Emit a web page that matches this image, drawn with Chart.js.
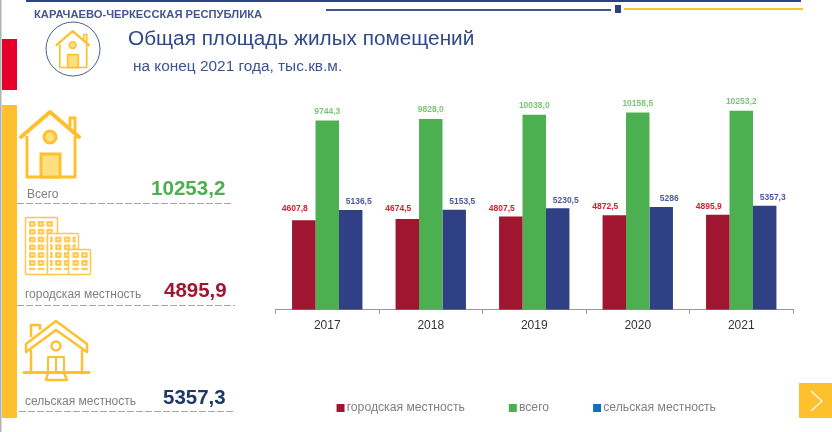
<!DOCTYPE html>
<html>
<head>
<meta charset="utf-8">
<script src="https://cdn.jsdelivr.net/npm/chart.js@4"></script>
<style>
  html, body { margin: 0; padding: 0; background: #fff; }
  body { width: 832px; height: 432px; overflow: hidden; position: relative; font-family: "Liberation Sans", Arial, sans-serif; }
  canvas, svg.decor { position: absolute; left: 0; top: 0; }
  .t { position: absolute; white-space: nowrap; line-height: 1; }
  .cap { font-size: 12px; color: #808080; }
  .num { font-weight: bold; }
</style>
</head>
<body>
<svg class="decor" width="832" height="432" viewBox="0 0 832 432">
  <defs>
    <g id="house">
      <path d="M21 137 L50 112 L79 137" fill="none" stroke="#FFC02E" stroke-width="4" stroke-linejoin="round" stroke-linecap="round"/>
      <path d="M27 136 V177 H75 V136 M70 127 V118 H75 V132" fill="none" stroke="#FFC02E" stroke-width="3"/>
      <circle cx="50" cy="137" r="6" fill="#FFDF80" stroke="#FFC02E" stroke-width="3"/>
      <rect x="41" y="154" width="19" height="23" fill="#FFDF80" stroke="#FFC02E" stroke-width="3"/>
    </g>
    <pattern id="win" x="29" y="221" width="8.7" height="7.8" patternUnits="userSpaceOnUse">
      <rect x="1" y="1" width="4.5" height="3.8" fill="#FFE9B0" stroke="#FFC02E" stroke-width="1.6"/>
    </pattern>
  </defs>

  <!-- рамка и полосы -->
  <rect x="0" y="0" width="1.5" height="432" fill="#B0B0B0"/>
  <rect x="26" y="0" width="775" height="2" fill="#2F4085"/>
  <rect x="326" y="9" width="285" height="2" fill="#46558F"/>
  <rect x="615" y="5" width="6" height="8" fill="#2F4085"/>
  <rect x="624" y="8" width="179" height="2" fill="#FFC02E"/>
  <rect x="2" y="39" width="15" height="51" fill="#E4002B"/>
  <rect x="2" y="105" width="15" height="313" fill="#FFC02E"/>

  <!-- иконка в круге -->
  <circle cx="73" cy="49" r="27" fill="none" stroke="#46608F" stroke-width="1"/>
  <use href="#house" transform="translate(44.7 -31.6) scale(0.56)"/>

  <!-- большие иконки -->
  <use href="#house"/>
  <g>
    <rect x="25.5" y="217.5" width="32" height="57" rx="1" fill="#fff" stroke="#FFC84A" stroke-width="1.5"/>
    <rect x="28" y="220" width="27" height="50" fill="url(#win)"/>
    <rect x="47.5" y="233.5" width="31" height="41" rx="1" fill="#fff" stroke="#FFC84A" stroke-width="1.5"/>
    <rect x="50" y="236" width="26" height="34" fill="url(#win)"/>
    <rect x="68.5" y="249.5" width="22" height="25" rx="1" fill="#fff" stroke="#FFC84A" stroke-width="1.5"/>
    <rect x="71" y="252" width="17" height="18" fill="url(#win)"/>
  </g>
  <g fill="none" stroke="#FFC02E" stroke-linejoin="round">
    <path d="M26 352 V344 L56 321 L87 344 V352 L56 330 Z" stroke-width="2.5"/>
    <path d="M31 337 V325 H40 V330" stroke-width="2.5"/>
    <path d="M31 350 V372 M82 350 V372" stroke-width="2.5"/>
    <path d="M24 372.5 H89" stroke-width="3" stroke-linecap="round"/>
    <circle cx="56" cy="346" r="4.5" stroke-width="2.5"/>
    <path d="M48 372 V357 H64 V372 M56 357 V372" stroke-width="2"/>
    <path d="M48 373 L46 380 H67 L64 373" stroke-width="2.5"/>
  </g>

  <!-- пунктиры -->
  <g stroke="#A6A6A6" stroke-width="1" stroke-dasharray="7 2">
    <line x1="17" y1="203.5" x2="233" y2="203.5"/>
    <line x1="17" y1="305.5" x2="235" y2="305.5"/>
    <line x1="19" y1="411.5" x2="235" y2="411.5"/>
  </g>

  <!-- стрелка -->
  <rect x="799" y="383" width="33" height="35" fill="#FFC02E"/>
  <path d="M811 391 L822 401 L811 411" fill="none" stroke="#fff" stroke-width="1.2"/>
</svg>

<canvas id="areaChart" width="832" height="432"></canvas>

<div class="t" style="left:34px;top:9px;font-size:11.2px;font-weight:bold;color:#46558F">КАРАЧАЕВО-ЧЕРКЕССКАЯ РЕСПУБЛИКА</div>
<div class="t" style="left:128px;top:28px;font-size:20.75px;color:#2F4A8A">Общая площадь жилых помещений</div>
<div class="t" style="left:133px;top:58px;font-size:15.4px;color:#3B5592">на конец 2021 года, тыс.кв.м.</div>

<div class="t cap" style="left:27px;top:188px">Всего</div>
<div class="t num" style="left:151px;top:178px;font-size:20.6px;color:#4CAF50">10253,2</div>
<div class="t cap" style="left:25px;top:288px">городская местность</div>
<div class="t num" style="left:164px;top:280px;font-size:20.5px;color:#A0152F">4895,9</div>
<div class="t cap" style="left:25px;top:395px">сельская местность</div>
<div class="t num" style="left:163px;top:387px;font-size:20.5px;color:#1F3864">5357,3</div>

<script>
// Данные диаграммы
const years = ['2017', '2018', '2019', '2020', '2021'];
const urbanValues = [4607.8, 4674.5, 4807.5, 4872.5, 4895.9];
const totalValues = [9744.3, 9828.0, 10038.0, 10158.5, 10253.2];
const ruralValues = [5136.5, 5153.5, 5230.5, 5286, 5357.3];
const urbanLabels = ['4607,8', '4674,5', '4807,5', '4872,5', '4895,9'];
const totalLabels = ['9744,3', '9828,0', '10038,0', '10158,5', '10253,2'];
const ruralLabels = ['5136,5', '5153,5', '5230,5', '5286', '5357,3'];

// Подписи над столбиками
const barLabels = {
    id: 'barLabels',
    afterDatasetsDraw(chart) {
        const ctx = chart.ctx;
        ctx.save();
        ctx.font = 'bold 8.5px "Liberation Sans", Arial, sans-serif';
        ctx.textAlign = 'center';
        ctx.textBaseline = 'middle';
        chart.data.datasets.forEach((ds, i) => {
            ctx.fillStyle = ds.labelColor;
            chart.getDatasetMeta(i).data.forEach((bar, j) => {
                const dy = ds.labelRaise[j];
                ctx.fillText(ds.labelTexts[j], bar.x + ds.labelShift, bar.y - dy);
            });
        });
        ctx.restore();
    }
};

// Легенда стоит ниже и левее центра оси
const legendShift = {
    id: 'legendShift',
    afterLayout(chart) {
        chart.legend.left -= 6;
        chart.legend.right -= 6;
        chart.legend.top = 354;
    }
};

new Chart(document.getElementById('areaChart'), {
    type: 'bar',
    data: {
        labels: years,
        datasets: [{
            label: 'городская местность',
            data: urbanValues,
            backgroundColor: '#A0152F',
            labelTexts: urbanLabels,
            labelColor: '#D2202F',
            labelShift: -9,
            labelRaise: [12, 10, 8, 8, 8]
        }, {
            label: 'всего',
            data: totalValues,
            backgroundColor: '#4CAF50',
            labelTexts: totalLabels,
            labelColor: '#7CC576',
            labelShift: 0,
            labelRaise: [9, 9, 9, 9, 9]
        }, {
            label: 'сельская местность',
            data: ruralValues,
            backgroundColor: '#2F4085',
            labelTexts: ruralLabels,
            labelColor: '#4A5AA0',
            labelShift: 8,
            labelRaise: [8, 8, 8, 8, 8]
        }]
    },
    options: {
        responsive: false,
        animation: false,
        datasets: { bar: { categoryPercentage: 0.68, barPercentage: 1 } },
        layout: { padding: { left: 275.5, right: 39, top: 76.7, bottom: 0 } },
        plugins: {
            tooltip: { enabled: false },
            legend: {
                position: 'bottom',
                labels: {
                    usePointStyle: true,
                    pointStyle: 'rect',
                    boxWidth: 0.01,
                    boxHeight: 8,
                    padding: 48,
                    color: '#808080',
                    font: { family: '"Liberation Sans", Arial, sans-serif', size: 12.2 },
                    generateLabels(chart) {
                        // в легенде синий светлее, чем на столбиках
                        const legendColors = ['#A0152F', '#4CAF50', '#0E6FBE'];
                        return chart.data.datasets.map((ds, i) => ({
                            text: ds.label,
                            fillStyle: legendColors[i],
                            strokeStyle: legendColors[i],
                            lineWidth: 0,
                            pointStyle: 'rect',
                            fontColor: '#808080',
                            datasetIndex: i
                        }));
                    }
                }
            }
        },
        scales: {
            x: {
                offset: true,
                border: { color: '#999999', width: 1 },
                grid: { drawOnChartArea: false, color: '#999999', tickLength: 4, offset: true },
                ticks: {
                    color: '#333333',
                    padding: 5,
                    maxRotation: 0,
                    font: { family: '"Liberation Sans", Arial, sans-serif', size: 12 }
                },
                afterFit(scale) { scale.height = 52; }
            },
            y: {
                display: false,
                min: 0,
                max: 12000
            }
        }
    },
    plugins: [barLabels, legendShift]
});
</script>
</body>
</html>
